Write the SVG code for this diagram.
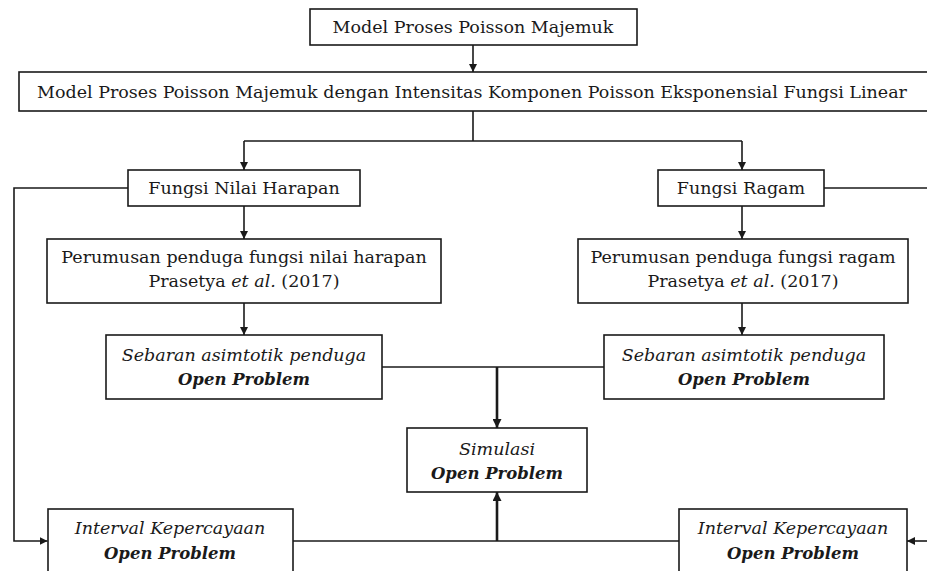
<svg xmlns="http://www.w3.org/2000/svg" width="927" height="571" viewBox="0 0 927 571">
<style>
.box{fill:#fff;stroke:#1a1a1a;stroke-width:1.6}
.t{font-family:"DejaVu Serif","Liberation Serif",serif;font-size:17.5px;fill:#1a1a1a;text-anchor:middle}
.i{font-style:italic}
.b{font-style:italic;font-weight:bold;font-size:16.5px}
.c{fill:none;stroke:#1a1a1a;stroke-width:1.6}
.k{fill:none;stroke:#1a1a1a;stroke-width:2.6}
</style>
<defs>
<marker id="ah" viewBox="0 0 10 10" refX="10" refY="5" markerWidth="8" markerHeight="8" markerUnits="userSpaceOnUse" orient="auto">
<path d="M0,0 L10,5 L0,10 Z" fill="#1a1a1a"/>
</marker>
<marker id="ahk" viewBox="0 0 10 10" refX="10" refY="5" markerWidth="9" markerHeight="9" markerUnits="userSpaceOnUse" orient="auto">
<path d="M0,0 L10,5 L0,10 Z" fill="#1a1a1a"/>
</marker>
</defs>
<g id="connectors">
<path class="c" d="M473,45 V72" marker-end="url(#ah)"/>
<path class="c" d="M473,111 V141 M244,141 H742"/>
<path class="c" d="M244,141 V170" marker-end="url(#ah)"/>
<path class="c" d="M742,141 V170" marker-end="url(#ah)"/>
<path class="c" d="M244,206 V239" marker-end="url(#ah)"/>
<path class="c" d="M742,206 V239" marker-end="url(#ah)"/>
<path class="c" d="M244,303 V335" marker-end="url(#ah)"/>
<path class="c" d="M742,303 V335" marker-end="url(#ah)"/>
<path class="c" d="M128,188 H14 V541 H47.5" marker-end="url(#ah)"/>
<path class="c" d="M824,188 H930"/>
<path class="c" d="M930,541 H907" marker-end="url(#ah)"/>
<path class="c" d="M382,367 H604"/>
<path class="k" d="M497,367 V428" marker-end="url(#ahk)"/>
<path class="c" d="M293,541 H679"/>
<path class="k" d="M497,541 V492" marker-end="url(#ahk)"/>
</g>
<g id="n1">
<rect class="box" x="310" y="9" width="327" height="36"/>
<text class="t" x="473" y="33">Model Proses Poisson Majemuk</text>
</g>
<g id="n2">
<rect class="box" x="19" y="72" width="912" height="39"/>
<text class="t" x="472" y="98" textLength="870" lengthAdjust="spacingAndGlyphs">Model Proses Poisson Majemuk dengan Intensitas Komponen Poisson Eksponensial Fungsi Linear</text>
</g>
<g id="n3">
<rect class="box" x="128" y="170" width="232" height="36"/>
<text class="t" x="244" y="194">Fungsi Nilai Harapan</text>
</g>
<g id="n4">
<rect class="box" x="658" y="170" width="166" height="36"/>
<text class="t" x="741" y="194">Fungsi Ragam</text>
</g>
<g id="n5">
<rect class="box" x="47" y="239" width="394" height="64"/>
<text class="t" x="244" y="263">Perumusan penduga fungsi nilai harapan</text>
<text class="t" x="244" y="287">Prasetya <tspan class="i">et al.</tspan> (2017)</text>
</g>
<g id="n6">
<rect class="box" x="578" y="239" width="330" height="64"/>
<text class="t" x="743" y="263">Perumusan penduga fungsi ragam</text>
<text class="t" x="743" y="287">Prasetya <tspan class="i">et al.</tspan> (2017)</text>
</g>
<g id="n7">
<rect class="box" x="106" y="335" width="276" height="64"/>
<text class="t i" x="244" y="361">Sebaran asimtotik penduga</text>
<text class="t b" x="244" y="385">Open Problem</text>
</g>
<g id="n8">
<rect class="box" x="604" y="335" width="280" height="64"/>
<text class="t i" x="744" y="361">Sebaran asimtotik penduga</text>
<text class="t b" x="744" y="385">Open Problem</text>
</g>
<g id="n9">
<rect class="box" x="407" y="428" width="180" height="64"/>
<text class="t i" x="497" y="455">Simulasi</text>
<text class="t b" x="497" y="479">Open Problem</text>
</g>
<g id="n10">
<rect class="box" x="48" y="509" width="245" height="70"/>
<text class="t i" x="170" y="534">Interval Kepercayaan</text>
<text class="t b" x="170" y="559">Open Problem</text>
</g>
<g id="n11">
<rect class="box" x="679" y="509" width="228" height="70"/>
<text class="t i" x="793" y="534">Interval Kepercayaan</text>
<text class="t b" x="793" y="559">Open Problem</text>
</g>
</svg>
